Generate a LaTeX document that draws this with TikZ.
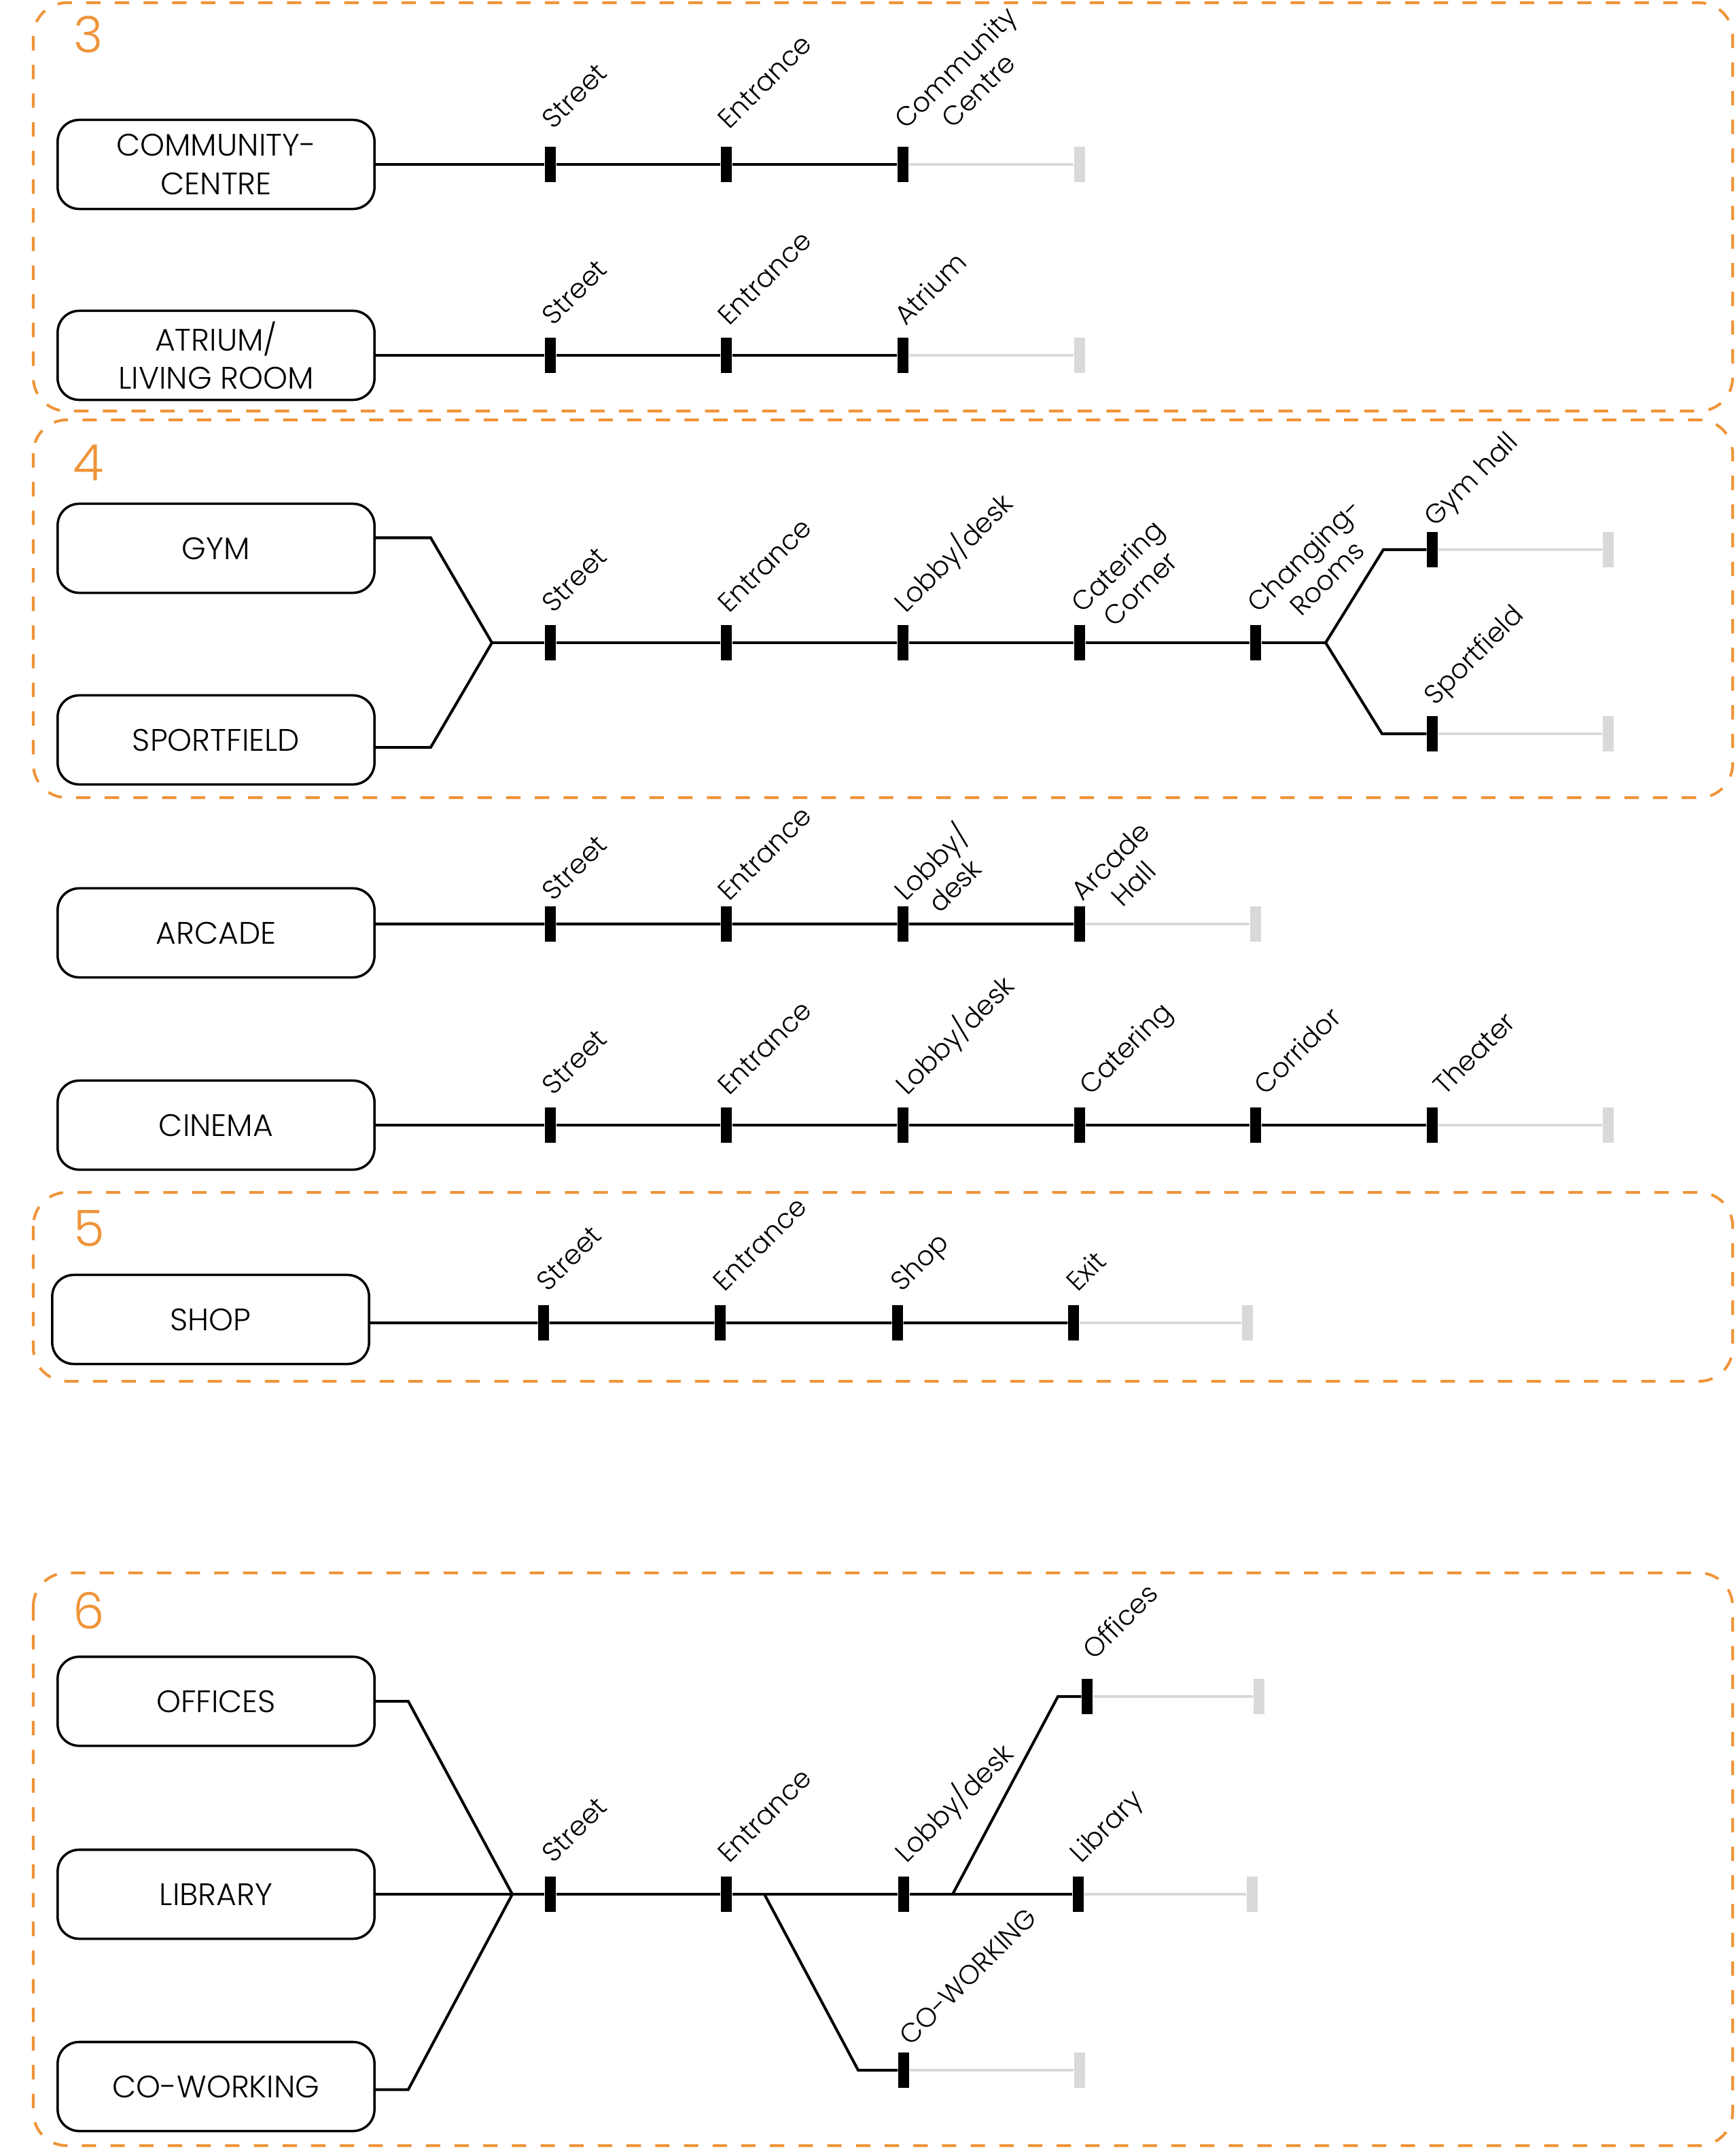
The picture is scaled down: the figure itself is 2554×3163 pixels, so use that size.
\documentclass[tikz,border=0pt]{standalone}
\usepackage{fontspec}
\setmainfont{Poppins Light}
\usetikzlibrary{positioning}

\definecolor{zoneorange}{HTML}{EF9439}
\definecolor{spareline}{HTML}{D9D9D9}

\tikzset{
  zone/.style={draw=zoneorange, line width=1.15pt, dash pattern=on 6pt off 6pt, rounded corners=14pt},
  zonenum/.style={text=zoneorange, inner sep=0pt, font=\fontsize{21}{21}\selectfont},
  room/.style={draw, line width=1pt, rounded corners=9pt, minimum width=4.66cm, minimum height=1.31cm,
    align=center, inner sep=0pt, font=\fontsize{13}{16}\selectfont},
  stopmark/.style={fill=black, inner sep=0pt, minimum width=0.16cm, minimum height=0.52cm},
  stopend/.style={stopmark, fill=spareline},
  stoplabel/.style={rotate=45, anchor=base west, inner sep=0pt, align=center, font=\fontsize{11.3}{13.5}\selectfont},
  route/.style={line width=1.15pt},
  spare/.style={draw=spareline, line width=1.2pt},
}

\begin{document}
\begin{tikzpicture}[x=0.01cm, y=-0.01cm]

  \useasboundingbox (0,0) rectangle (2554,3163);

  % ── Group 3 ──────────────────────────────────────────────────────
  \draw[zone] (49,4) rectangle (2550,605);
  \node[zonenum] (num3) at (130,51) {3};

  % community centre
  \node[room] (cc) at (318,242) {COMMUNITY-\\CENTRE};
  \foreach \i/\x in {1/810,2/1069,3/1329}{
    \node[stopmark] (cc\i) at (\x,242) {};
  }
  \node[stopend] (cc4) at (1589,242) {};
  \draw[route] (cc) -- (cc1) -- (cc2) -- (cc3);
  \draw[spare] (cc3) -- (cc4);
  % two-line labels: base is the last line, so push by one line (\dl)
  \foreach \i/\txt/\dl in {1/Street/0,2/Entrance/0,3/{Community\\Centre}/34}{
    \node[stoplabel] (ccl\i) at ([shift={(4+\dl,-50+\dl)}]cc\i) {\txt};
  }

  % atrium / living room
  \node[room] (atr) at (318,523) {ATRIUM/\\LIVING ROOM};
  \foreach \i/\x in {1/810,2/1069,3/1329}{
    \node[stopmark] (atr\i) at (\x,523) {};
  }
  \node[stopend] (atr4) at (1589,523) {};
  \draw[route] (atr) -- (atr1) -- (atr2) -- (atr3);
  \draw[spare] (atr3) -- (atr4);
  \foreach \i/\txt in {1/Street,2/Entrance,3/Atrium}{
    \node[stoplabel] (atrl\i) at ([shift={(4,-42)}]atr\i) {\txt};
  }

  % ── Group 4 ──────────────────────────────────────────────────────
  \draw[zone] (49,618) rectangle (2550,1174);
  \node[zonenum] (num4) at (130,681) {4};

  \node[room] (gym) at (318,807) {GYM};
  \node[room] (sport) at (318,1089) {SPORTFIELD};
  \coordinate (g4join) at (724,946);
  \coordinate (g4split) at (1951,946);
  \coordinate (gymbend) at (2036,809);
  \coordinate (sportbend) at (2034,1080);
  \foreach \i/\x in {1/810,2/1069,3/1329,4/1589,5/1848}{
    \node[stopmark] (g4s\i) at (\x,946) {};
  }
  \node[stopmark] (gymhall) at (2108,809) {};
  \node[stopend] (gymhallend) at (2367,809) {};
  \node[stopmark] (sportf) at (2108,1080) {};
  \node[stopend] (sportfend) at (2367,1080) {};

  \draw[route] ([yshift=0.155cm]gym.east) -- ++(81,0) -- (g4join);
  \draw[route] ([yshift=-0.11cm]sport.east) -- ++(81,0) -- (g4join);
  \draw[route] (g4join) -- (g4s1) -- (g4s2) -- (g4s3) -- (g4s4) -- (g4s5) -- (g4split);
  \draw[route] (g4split) -- (gymbend) -- (gymhall);
  \draw[route] (g4split) -- (sportbend) -- (sportf);
  \draw[spare] (gymhall) -- (gymhallend);
  \draw[spare] (sportf) -- (sportfend);

  \foreach \i/\txt/\dl in {1/Street/0,2/Entrance/0,3/{Lobby/desk}/0,4/{Catering\\Corner}/34,5/{Changing-\\Rooms}/34}{
    \node[stoplabel] (g4l\i) at ([shift={(4+\dl,-42+\dl)}]g4s\i) {\txt};
  }
  \node[stoplabel] (gymhalll) at ([shift={(4,-32)}]gymhall) {Gym hall};
  \node[stoplabel] (sportfl) at ([shift={(4,-40)}]sportf) {Sportfield};

  % ── Arcade ───────────────────────────────────────────────────────
  \node[room] (arcade) at (318,1373) {ARCADE};
  \foreach \i/\x in {1/810,2/1069,3/1329,4/1589}{
    \node[stopmark] (ar\i) at (\x,1360) {};
  }
  \node[stopend] (ar5) at (1848,1360) {};
  \draw[route] ([yshift=0.13cm]arcade.east) -- (ar1) -- (ar2) -- (ar3) -- (ar4);
  \draw[spare] (ar4) -- (ar5);
  \foreach \i/\txt/\dl in {1/Street/0,2/Entrance/0,3/{Lobby/\\desk}/34,4/{Arcade\\Hall}/34}{
    \node[stoplabel] (arl\i) at ([shift={(4+\dl,-32+\dl)}]ar\i) {\txt};
  }

  % ── Cinema ───────────────────────────────────────────────────────
  \node[room] (cinema) at (318,1656) {CINEMA};
  \foreach \i/\x in {1/810,2/1069,3/1329,4/1589,5/1848,6/2108}{
    \node[stopmark] (ci\i) at (\x,1656) {};
  }
  \node[stopend] (ci7) at (2367,1656) {};
  \draw[route] (cinema) -- (ci1) -- (ci2) -- (ci3) -- (ci4) -- (ci5) -- (ci6);
  \draw[spare] (ci6) -- (ci7);
  \foreach \i/\txt/\dx in {1/Street/4,2/Entrance/4,3/{Lobby/desk}/6,4/Catering/16,5/Corridor/14,6/Theater/18}{
    \node[stoplabel] (cil\i) at ([shift={(\dx,-42)}]ci\i) {\txt};
  }

  % ── Group 5 ──────────────────────────────────────────────────────
  \draw[zone] (49,1755) rectangle (2550,2033);
  \node[zonenum] (num5) at (131,1808) {5};

  \node[room] (shop) at (310,1942) {SHOP};
  \foreach \i/\x in {1/800,2/1060,3/1321,4/1580}{
    \node[stopmark] (sh\i) at (\x,1947) {};
  }
  \node[stopend] (sh5) at (1836,1947) {};
  \draw[route] ([yshift=-0.05cm]shop.east) -- (sh1) -- (sh2) -- (sh3) -- (sh4);
  \draw[spare] (sh4) -- (sh5);
  \foreach \i/\txt in {1/Street,2/Entrance,3/Shop,4/Exit}{
    \node[stoplabel] (shl\i) at ([shift={(6,-44)}]sh\i) {\txt};
  }

  % ── Group 6 ──────────────────────────────────────────────────────
  \draw[zone] (49,2315) rectangle (2550,3158);
  \node[zonenum] (num6) at (131,2371) {6};

  \node[room] (offices) at (318,2504) {OFFICES};
  \node[room] (library) at (318,2788) {LIBRARY};
  \node[room] (cowork) at (318,3071) {CO-WORKING};
  \coordinate (g6join) at (754,2788);
  \coordinate (g6down) at (1125,2788);
  \coordinate (g6up) at (1402,2788);
  \coordinate (cwbend) at (1263,3047);
  \coordinate (ofbend) at (1557,2497);
  \foreach \i/\x in {1/810,2/1069,3/1330,4/1587}{
    \node[stopmark] (g6s\i) at (\x,2788) {};
  }
  \node[stopend] (g6s5) at (1843,2788) {};
  \node[stopmark] (cwstop) at (1330,3047) {};
  \node[stopend] (cwend) at (1589,3047) {};
  \node[stopmark] (ofstop) at (1600,2497) {};
  \node[stopend] (ofend) at (1853,2497) {};

  \draw[route] (offices.east) -- ++(48,0) -- (g6join);
  \draw[route] ([yshift=-0.045cm]cowork.east) -- ++(48,0) -- (g6join);
  \draw[route] (library) -- (g6join) -- (g6s1) -- (g6s2) -- (g6s3) -- (g6s4);
  \draw[route] (g6down) -- (cwbend) -- (cwstop);
  \draw[route] (g6up) -- (ofbend) -- (ofstop);
  \draw[spare] (g6s4) -- (g6s5);
  \draw[spare] (cwstop) -- (cwend);
  \draw[spare] (ofstop) -- (ofend);

  \foreach \i/\txt in {1/Street,2/Entrance,3/{Lobby/desk},4/Library}{
    \node[stoplabel] (g6l\i) at ([shift={(4,-44)}]g6s\i) {\txt};
  }
  \node[stoplabel] (ofl) at ([shift={(10,-52)}]ofstop) {Offices};
  \node[stoplabel] (cwl) at ([shift={(10,-34)}]cwstop) {CO-WORKING};

\end{tikzpicture}
\end{document}
